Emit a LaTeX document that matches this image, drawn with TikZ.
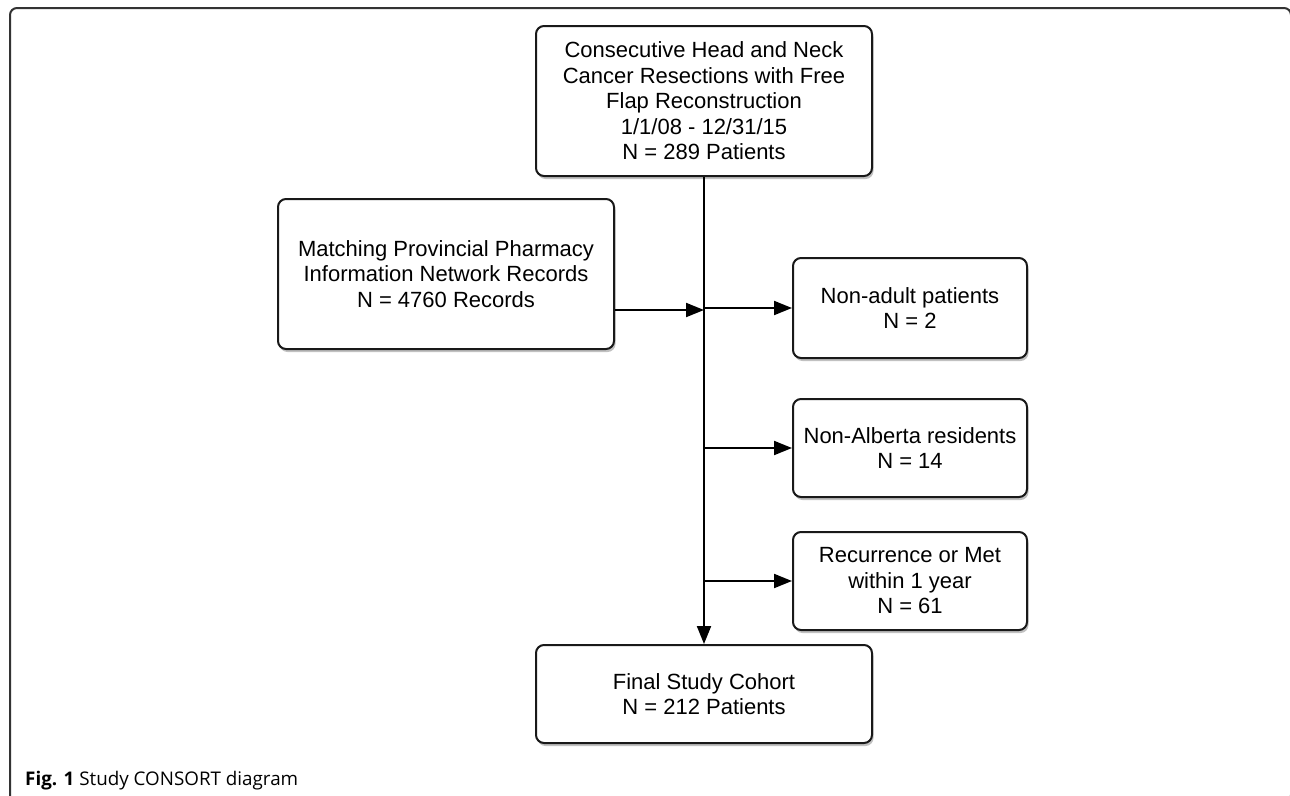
\documentclass[tikz,border=0pt]{standalone}
\usepackage{fontspec}
\setmainfont{Liberation Sans}
\newfontfamily\capfont{Open Sans}
\usetikzlibrary{arrows.meta,shadows}
\begin{document}
\begin{tikzpicture}[x=1pt,y=-1pt,
  box/.style={draw=black!90, line width=2pt, rounded corners=8pt, fill=white,
    align=center, inner sep=0pt, font=\fontsize{22}{25.5}\selectfont,
    drop shadow={shadow xshift=1.5pt, shadow yshift=-3pt, opacity=0.4, fill=black!60}},
  conn/.style={line width=2pt, draw=black, -{Triangle[length=18pt,width=14pt]}},
  frame/.style={draw=black!80, line width=2pt, rounded corners=7pt}
  ]
\useasboundingbox (0,0) rectangle (1290,795);
\fill[white] (0,0) rectangle (1290,795);
\begin{scope}
\clip (0,0) rectangle (1290,795);
\draw[frame] (10,8) rectangle (1291,802);
\end{scope}

\node[box, minimum width=336pt, minimum height=150pt] (top) at (704,101)
  {Consecutive Head and Neck\\Cancer Resections with Free\\Flap Reconstruction\\1/1/08 - 12/31/15\\N = 289 Patients};
\node[box, minimum width=336pt, minimum height=150pt] (left) at (446,274)
  {Matching Provincial Pharmacy\\Information Network Records\\N = 4760 Records};
\node[box, minimum width=234pt, minimum height=100pt] (na) at (910,308)
  {Non-adult patients\\N = 2};
\node[box, minimum width=234pt, minimum height=98pt] (nab) at (910,448)
  {Non-Alberta residents\\N = 14};
\node[box, minimum width=234pt, minimum height=98pt] (rec) at (910,581)
  {Recurrence or Met\\within 1 year\\N = 61};
\node[box, minimum width=336pt, minimum height=98pt] (final) at (704,694)
  {Final Study Cohort\\N = 212 Patients};

\coordinate (jl) at (704,310);
\draw[conn] (top.south) -- (final.north);
\draw[conn] (left.east |- jl) -- (jl);
\draw[conn] (top.south |- na.west) -- (na.west);
\draw[conn] (top.south |- nab.west) -- (nab.west);
\draw[conn] (top.south |- rec.west) -- (rec.west);

\node[anchor=base west, inner sep=0pt, font=\capfont\fontsize{18.8}{21}\selectfont] (cap) at (25,785)
  {\textbf{Fig. 1} Study CONSORT diagram};
\end{tikzpicture}
\end{document}
